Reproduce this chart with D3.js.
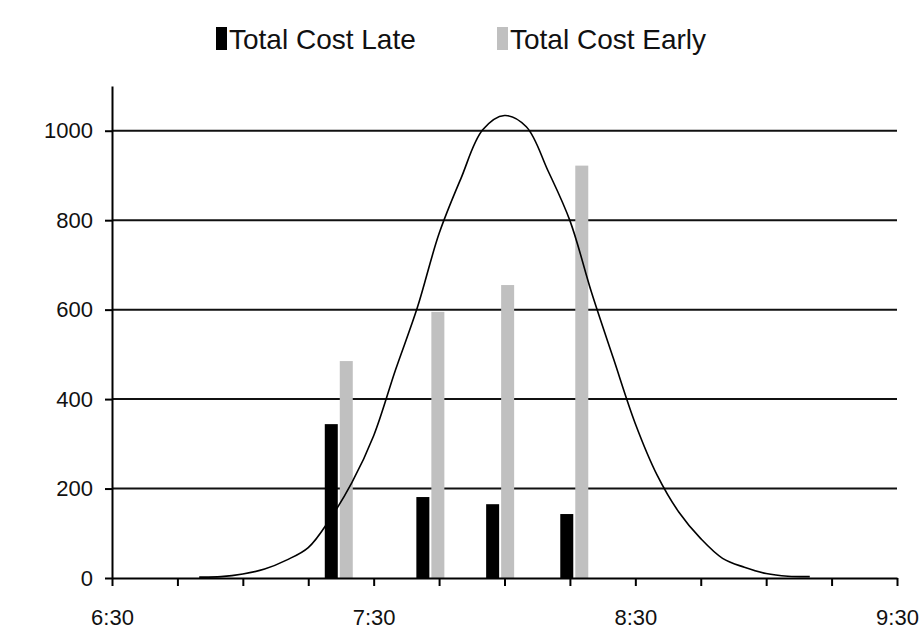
<!DOCTYPE html>
<html>
<head>
<meta charset="utf-8">
<script src="https://cdn.jsdelivr.net/npm/d3@7"></script>
<style>
  body { margin: 0; background: #fff; }
  svg { display: block; font-family: "Liberation Sans", Arial, sans-serif; }
</style>
</head>
<body>
<div id="chart"></div>
<script>
// bar groups (centre time of each pair)
const barTimes = ['7:22', '7:43', '7:59', '8:16'];
const costLate = [344, 181, 165, 143];
const costEarly = [485, 595, 655, 922];

// arrival distribution curve
const curveTimes = ['6:50', '6:55', '7:00', '7:05', '7:10', '7:15', '7:20', '7:25', '7:30', '7:35',
    '7:40', '7:45', '7:50', '7:55', '8:00', '8:05', '8:10', '8:15', '8:20', '8:25',
    '8:30', '8:35', '8:40', '8:45', '8:50', '8:55', '9:00', '9:05', '9:10'];
const curveValues = [2, 3, 9, 20, 40, 68, 132, 213, 318, 465,
    604, 770, 893, 1002, 1034, 1009, 910, 799, 637, 490,
    345, 230, 147, 88, 44, 24, 10, 4, 3];

const yTicks = [0, 200, 400, 600, 800, 1000];
const seriesNames = ['Total Cost Late', 'Total Cost Early'];
const seriesColors = ['#000000', '#c0c0c0'];

const width = 922;
const height = 630;
const parse = d3.timeParse('%H:%M');

const svg = d3.select('#chart')
    .append('svg')
    .attr('width', width)
    .attr('height', height);

const xScale = d3.scaleTime()
    .domain([parse('6:30'), parse('9:30')])
    .range([112, 897]);

const yScale = d3.scaleLinear()
    .domain([0, 1100])
    .range([578, 86]);

// gridlines
svg.append('g')
    .selectAll('line')
    .data(yTicks.filter(d => d > 0))
    .enter()
    .append('line')
    .attr('x1', xScale.range()[0])
    .attr('x2', xScale.range()[1])
    .attr('y1', d => yScale(d))
    .attr('y2', d => yScale(d))
    .attr('stroke', '#111')
    .attr('stroke-width', 2);

// bars
const barW = 13;
svg.append('g')
    .selectAll('rect')
    .data(barTimes.map((t, i) => ({ t: parse(t), v: costLate[i] })))
    .enter()
    .append('rect')
    .attr('x', d => xScale(d.t) - barW - 1)
    .attr('y', d => yScale(d.v))
    .attr('width', barW)
    .attr('height', d => yScale(0) - yScale(d.v))
    .attr('fill', seriesColors[0]);

svg.append('g')
    .selectAll('rect')
    .data(barTimes.map((t, i) => ({ t: parse(t), v: costEarly[i] })))
    .enter()
    .append('rect')
    .attr('x', d => xScale(d.t) + 1)
    .attr('y', d => yScale(d.v))
    .attr('width', barW)
    .attr('height', d => yScale(0) - yScale(d.v))
    .attr('fill', seriesColors[1]);

// curve
const line = d3.line()
    .curve(d3.curveCatmullRom.alpha(0.5))
    .x(d => xScale(d.t))
    .y(d => yScale(d.v));

svg.append('path')
    .datum(curveTimes.map((t, i) => ({ t: parse(t), v: curveValues[i] })))
    .attr('d', line)
    .attr('fill', 'none')
    .attr('stroke', '#000')
    .attr('stroke-width', 1.6);

// axes
const xAxis = d3.axisBottom(xScale)
    .ticks(d3.timeMinute.every(15))
    .tickSize(8)
    .tickSizeOuter(0)
    .tickPadding(23)
    .tickFormat(d => d.getMinutes() === 30 ? d3.timeFormat('%-H:%M')(d) : '');

const yAxis = d3.axisLeft(yScale)
    .tickValues(yTicks)
    .tickFormat(d3.format('d'))
    .tickSize(7)
    .tickSizeOuter(0)
    .tickPadding(12);

const gx = svg.append('g')
    .attr('transform', `translate(0, ${yScale(0)})`)
    .call(xAxis);

const gy = svg.append('g')
    .attr('transform', `translate(${xScale.range()[0]}, 0)`)
    .call(yAxis);

[gx, gy].forEach(g => {
    g.select('.domain').attr('stroke', '#000').attr('stroke-width', 2);
    g.selectAll('.tick line').attr('stroke', '#000').attr('stroke-width', 2);
    g.selectAll('text').attr('fill', '#111').style('font-size', '22px')
        .style('font-family', '"Liberation Sans", Arial, sans-serif');
});

// legend
const legendX = [216, 497];
const legend = svg.append('g');
seriesNames.forEach((name, i) => {
    legend.append('rect')
        .attr('x', legendX[i])
        .attr('y', 27)
        .attr('width', 11)
        .attr('height', 23)
        .attr('fill', seriesColors[i]);
    legend.append('text')
        .attr('x', legendX[i] + 13)
        .attr('y', 49)
        .attr('fill', '#111')
        .style('font-size', '28px')
        .text(name);
});
</script>
</body>
</html>
